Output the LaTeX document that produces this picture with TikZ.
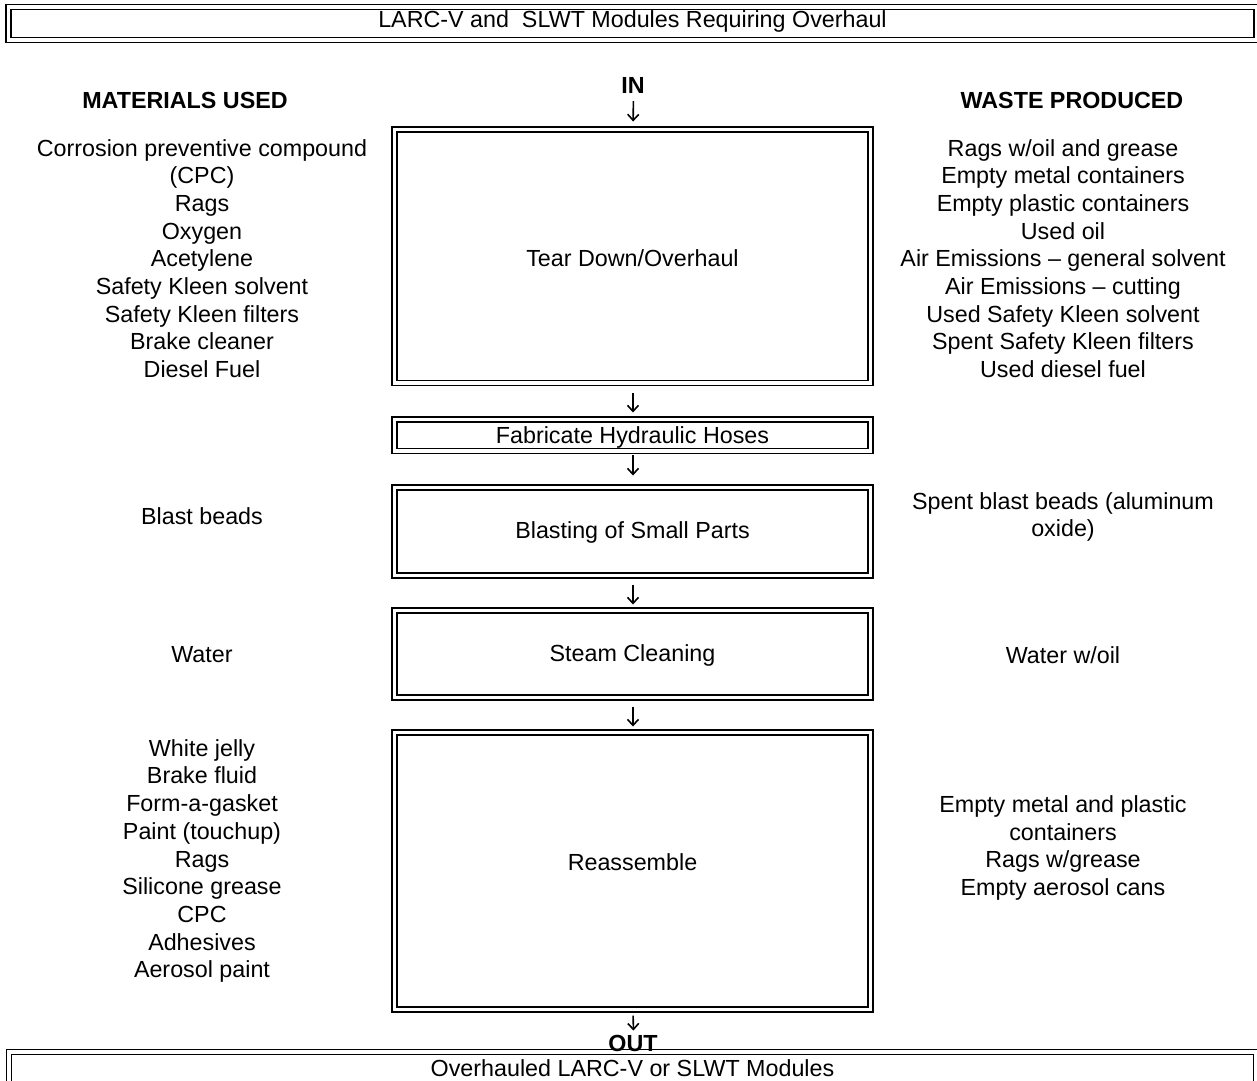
\documentclass[tikz,border=0pt]{standalone}
\usepackage{fontspec}
\setmainfont{Liberation Sans}
\usetikzlibrary{arrows.meta}
\begin{document}
\begin{tikzpicture}[x=1pt,y=-1pt,
  txt/.style={font=\fontsize{23.3}{27.7}\selectfont, align=center, inner sep=0pt},
  head/.style={txt, font=\fontsize{23.3}{27.7}\selectfont\bfseries},
  dbox/.style={draw, double, line width=1.7pt, double distance=3.2pt,
    inner sep=0pt, outer sep=0pt},
  flow/.style={line width=1.6pt, -{Straight Barb[length=6pt,width=11pt,line width=1.6pt]}}]
\useasboundingbox (0,0) rectangle (1257,1080);
\clip (0,0) rectangle (1257,1080);
\fill[white] (0,0) rectangle (1257,1080);

% banner boxes at top and bottom
\node[dbox, minimum width=1248pt, minimum height=33pt] (top) at (632.5,23.5) {};
\node[txt] (toptxt) at (632.5,21.5) {LARC-V and\ \ SLWT Modules Requiring Overhaul};
\node[dbox, minimum width=1247pt, minimum height=32pt] (bottom) at (632.5,1068) {};
\node[txt] (bottomtxt) at (632.5,1068) {Overhauled LARC-V or SLWT Modules};

% column headings
\node[head] (mat) at (185,100) {MATERIALS USED};
\node[head] (waste) at (1072,100) {WASTE PRODUCED};
\node[head] (in) at (633,85) {IN};
\node[head] (out) at (633,1043) {OUT};

% process steps
\node[dbox, minimum width=476pt, minimum height=253.5pt] (tear) at (632.5,256.25) {};
\node[dbox, minimum width=476pt, minimum height=31.5pt] (fab) at (632.5,435.25) {};
\node[dbox, minimum width=476pt, minimum height=88pt] (blast) at (632.5,531.5) {};
\node[dbox, minimum width=476pt, minimum height=87pt] (steam) at (632.5,654) {};
\node[dbox, minimum width=476pt, minimum height=277pt] (reas) at (632.5,871) {};
\node[txt] (teartxt) at (632.5,258.5) {Tear Down/Overhaul};
\node[txt] (fabtxt) at (632.5,437) {Fabricate Hydraulic Hoses};
\node[txt] (blasttxt) at (632.5,532) {Blasting of Small Parts};
\node[txt] (steamtxt) at (632.5,655) {Steam Cleaning};
\node[txt] (reastxt) at (632.5,862) {Reassemble};

% materials used
\node[txt] (m1) at (202,258.5) {Corrosion preventive compound\\(CPC)\\Rags\\Oxygen\\Acetylene\\Safety Kleen solvent\\Safety Kleen filters\\Brake cleaner\\Diesel Fuel};
\node[txt] (m2) at (202,516) {Blast beads};
\node[txt] (m3) at (202,655) {Water};
\node[txt] (m4) at (202,861) {White jelly\\Brake fluid\\Form-a-gasket\\Paint (touchup)\\Rags\\Silicone grease\\CPC\\Adhesives\\Aerosol paint};

% waste produced
\node[txt] (w1) at (1063,258.5) {Rags w/oil and grease\\Empty metal containers\\Empty plastic containers\\Used oil\\Air Emissions -- general solvent\\Air Emissions -- cutting\\Used Safety Kleen solvent\\Spent Safety Kleen filters\\Used diesel fuel};
\node[txt] (w2) at (1063,517) {Spent blast beads (aluminum\\oxide)};
\node[txt] (w3) at (1063,655) {Water w/oil};
\node[txt] (w4) at (1063,848) {Empty metal and plastic\\containers\\Rags w/grease\\Empty aerosol cans};

% flow arrows
\draw[flow, shorten <=8pt, shorten >=8pt] ([xshift=0.5pt]in.south) -- ([xshift=0.5pt]tear.north);
\draw[flow, shorten <=10pt, shorten >=7pt] ([xshift=0.5pt]tear.south) -- ([xshift=0.5pt]fab.north);
\draw[flow, shorten <=4pt, shorten >=12pt] ([xshift=0.5pt]fab.south) -- ([xshift=0.5pt]blast.north);
\draw[flow, shorten <=9pt, shorten >=6pt] ([xshift=0.5pt]blast.south) -- ([xshift=0.5pt]steam.north);
\draw[flow, shorten <=9pt, shorten >=6pt] ([xshift=0.5pt]steam.south) -- ([xshift=0.5pt]reas.north);
\draw[flow, shorten <=6pt, shorten >=4pt] ([xshift=0.5pt]reas.south) -- ([xshift=0.5pt]out.north);
\end{tikzpicture}
\end{document}
